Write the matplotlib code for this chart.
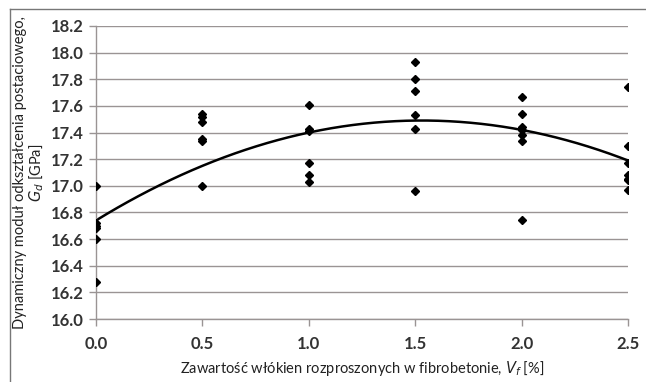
import matplotlib
matplotlib.use('Agg')
import numpy as np
import matplotlib.pyplot as plt
from matplotlib.lines import Line2D

# fibre content [%] and measured modulus G_d [GPa]
vf_00 = [0.0, 0.0, 0.0, 0.0, 0.0, 0.0]
gd_00 = [17.00, 16.72, 16.70, 16.68, 16.60, 16.28]
vf_05 = [0.5, 0.5, 0.5, 0.5, 0.5, 0.5]
gd_05 = [17.54, 17.52, 17.48, 17.35, 17.34, 17.00]
vf_10 = [1.0, 1.0, 1.0, 1.0, 1.0, 1.0]
gd_10 = [17.61, 17.43, 17.41, 17.17, 17.08, 17.03]
vf_15 = [1.5, 1.5, 1.5, 1.5, 1.5, 1.5]
gd_15 = [17.93, 17.80, 17.71, 17.53, 17.43, 16.96]
vf_20 = [2.0, 2.0, 2.0, 2.0, 2.0, 2.0, 2.0]
gd_20 = [17.67, 17.54, 17.44, 17.42, 17.38, 17.34, 16.74]
vf_25 = [2.5, 2.5, 2.5, 2.5, 2.5, 2.5, 2.5]
gd_25 = [17.74, 17.30, 17.17, 17.08, 17.05, 17.04, 16.97]

# 2nd order trend line: c0 + c1*x + c2*x^2
trend = [16.74, 0.98, -0.32]

x_ticks = [0.0, 0.5, 1.0, 1.5, 2.0, 2.5]
y_ticks = [16.0, 16.2, 16.4, 16.6, 16.8, 17.0, 17.2, 17.4, 17.6, 17.8, 18.0, 18.2]

plt.rcParams['font.family'] = ['Lato', 'DejaVu Sans']

fig = plt.figure(figsize=(6.46, 3.82), dpi=100)
ax = fig.add_axes([96/646, 1 - 319/382, 532/646, 293/382])

vf = vf_00 + vf_05 + vf_10 + vf_15 + vf_20 + vf_25
gd = gd_00 + gd_05 + gd_10 + gd_15 + gd_20 + gd_25
ax.plot(vf, gd, 'D', color='black', markersize=4.5, linestyle='none', zorder=3)

xs = np.linspace(0, 2.5, 200)
ax.plot(xs, trend[0] + trend[1]*xs + trend[2]*xs**2, color='black', lw=1.8, zorder=2)

ax.set_xlim(0, 2.5)
ax.set_ylim(16.0, 18.2)
ax.set_xticks(x_ticks)
ax.set_xticklabels([f'{t:.1f}' for t in x_ticks])
ax.set_yticks(y_ticks)
ax.set_yticklabels([f'{t:.1f}' for t in y_ticks])
ax.grid(axis='y', color='#9a9494', lw=1.0)
ax.set_axisbelow(True)
for s in ['top', 'right']:
    ax.spines[s].set_visible(False)
for s in ['left', 'bottom']:
    ax.spines[s].set_color('#9a9494')
    ax.spines[s].set_linewidth(1.0)
ax.tick_params(axis='both', colors='#9a9494', length=5, width=1.0, labelsize=12,
               labelcolor='#333333')
for lab in ax.get_xticklabels() + ax.get_yticklabels():
    lab.set_fontweight('bold')
ax.tick_params(axis='x', pad=7)
ax.tick_params(axis='y', pad=4)

ax.set_xlabel('Zawartość włókien rozproszonych w fibrobetonie, $V_f$ [%]',
              fontsize=10.5, color='#222222', labelpad=5)
ax.set_ylabel('Dynamiczny moduł odkształcenia postaciowego,\n$G_d$ [GPa]',
              fontsize=10.5, color='#222222', labelpad=3, linespacing=1.1)

# outer frame (top and left visible)
fig.add_artist(Line2D([10/646, 1], [1 - 9/382, 1 - 9/382], color='#777777', lw=1.0,
                      transform=fig.transFigure))
fig.add_artist(Line2D([10/646, 10/646], [0, 1 - 9/382], color='#777777', lw=1.0,
                      transform=fig.transFigure))

fig.savefig('out.png', dpi=100)
